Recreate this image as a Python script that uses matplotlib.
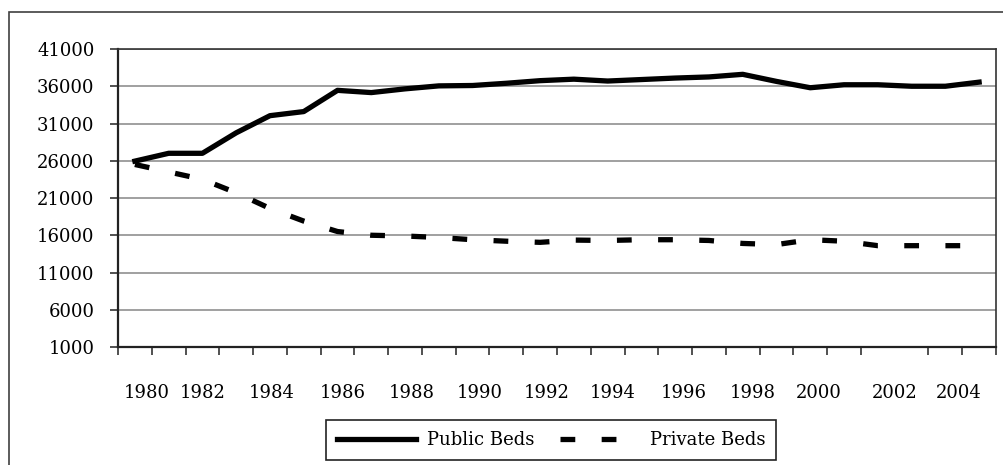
import numpy as np
from matplotlib import pyplot as plt
from matplotlib.patches import Rectangle

plt.rcParams.update({
    "font.family": "DejaVu Serif",
    "font.size": 13,
})

years = list(range(1980, 2006))
public_beds = [25950, 27000, 27000, 29750, 32050, 32600, 35450, 35150, 35650, 36050,
               36100, 36400, 36750, 36950, 36700, 36900, 37100, 37250, 37600, 36650,
               35800, 36200, 36200, 36000, 36000, 36550]
private_beds = [25500, 24500, 23500, 21700, 19600, 17900, 16500, 16000, 15900, 15700,
                15400, 15200, 15050, 15350, 15300, 15400, 15400, 15300, 14900, 14750,
                15400, 15200, 14600, 14600, 14600, 14600]
tick_labels = ["1980", "1982", "1984", "1986", "1988", "1990", "1992",
               "1994", "1996", "1998", "2000", "2002", "2004"]
# excel put the labels a bit off the category centres
label_pos = [0.35, 2.0, 4.06, 6.16, 8.2, 10.2, 12.2, 14.15, 16.25, 18.3, 20.25, 22.5, 24.4]
y_ticks = list(range(1000, 41001, 5000))

fig = plt.figure(figsize=(10.04, 4.65), dpi=100)
ax = fig.add_axes([118/1004, 1-347/465, 878/1004, 298/465])

# outer chart frame (runs off the right/bottom of the image)
fig.patches.append(Rectangle((9/1004, -0.2), 1.2, 1-12/465+0.2, transform=fig.transFigure,
                             fill=False, edgecolor="#404040", linewidth=1.2, zorder=0))

x = np.arange(len(years))
ax.plot(x, public_beds, color="black", linewidth=3.8, solid_joinstyle="round",
        label="Public Beds", zorder=3)
ax.plot(x, private_beds, color="black", linewidth=3.8, linestyle=(0, (2.8, 5.0)),
        dash_capstyle="butt", label="Private Beds", zorder=3)

ax.set_xlim(-0.5, len(years) - 0.5)
ax.set_ylim(1000, 41000)
ax.set_yticks(y_ticks)
ax.set_yticklabels([str(v) for v in y_ticks])
ax.yaxis.grid(True, color="#a0a0a0", linewidth=1.4)
ax.set_axisbelow(True)

ax.set_xticks(label_pos)
ax.set_xticklabels(tick_labels)
ax.set_xticks(np.arange(len(years) + 1) - 0.5, minor=True)
ax.tick_params(axis="x", which="major", length=0, pad=27)
ax.tick_params(axis="x", which="minor", length=6, width=1.2, direction="out", color="#333333")
ax.tick_params(axis="y", length=6, width=1.2, pad=11, color="#333333")

for side in ["left", "bottom"]:
    ax.spines[side].set_linewidth(1.6)
    ax.spines[side].set_color("#222222")
for side in ["top", "right"]:
    ax.spines[side].set_linewidth(1.2)
    ax.spines[side].set_color("#333333")

leg = fig.legend(loc="center", bbox_to_anchor=(551/1004, 1-440/465), ncol=2,
                 fancybox=False, edgecolor="#222222", framealpha=1,
                 handlelength=4.4, handletextpad=0.6, columnspacing=1.4,
                 borderpad=0.6, fontsize=13)
leg.get_frame().set_linewidth(1.2)

fig.savefig("out.png", dpi=100)
